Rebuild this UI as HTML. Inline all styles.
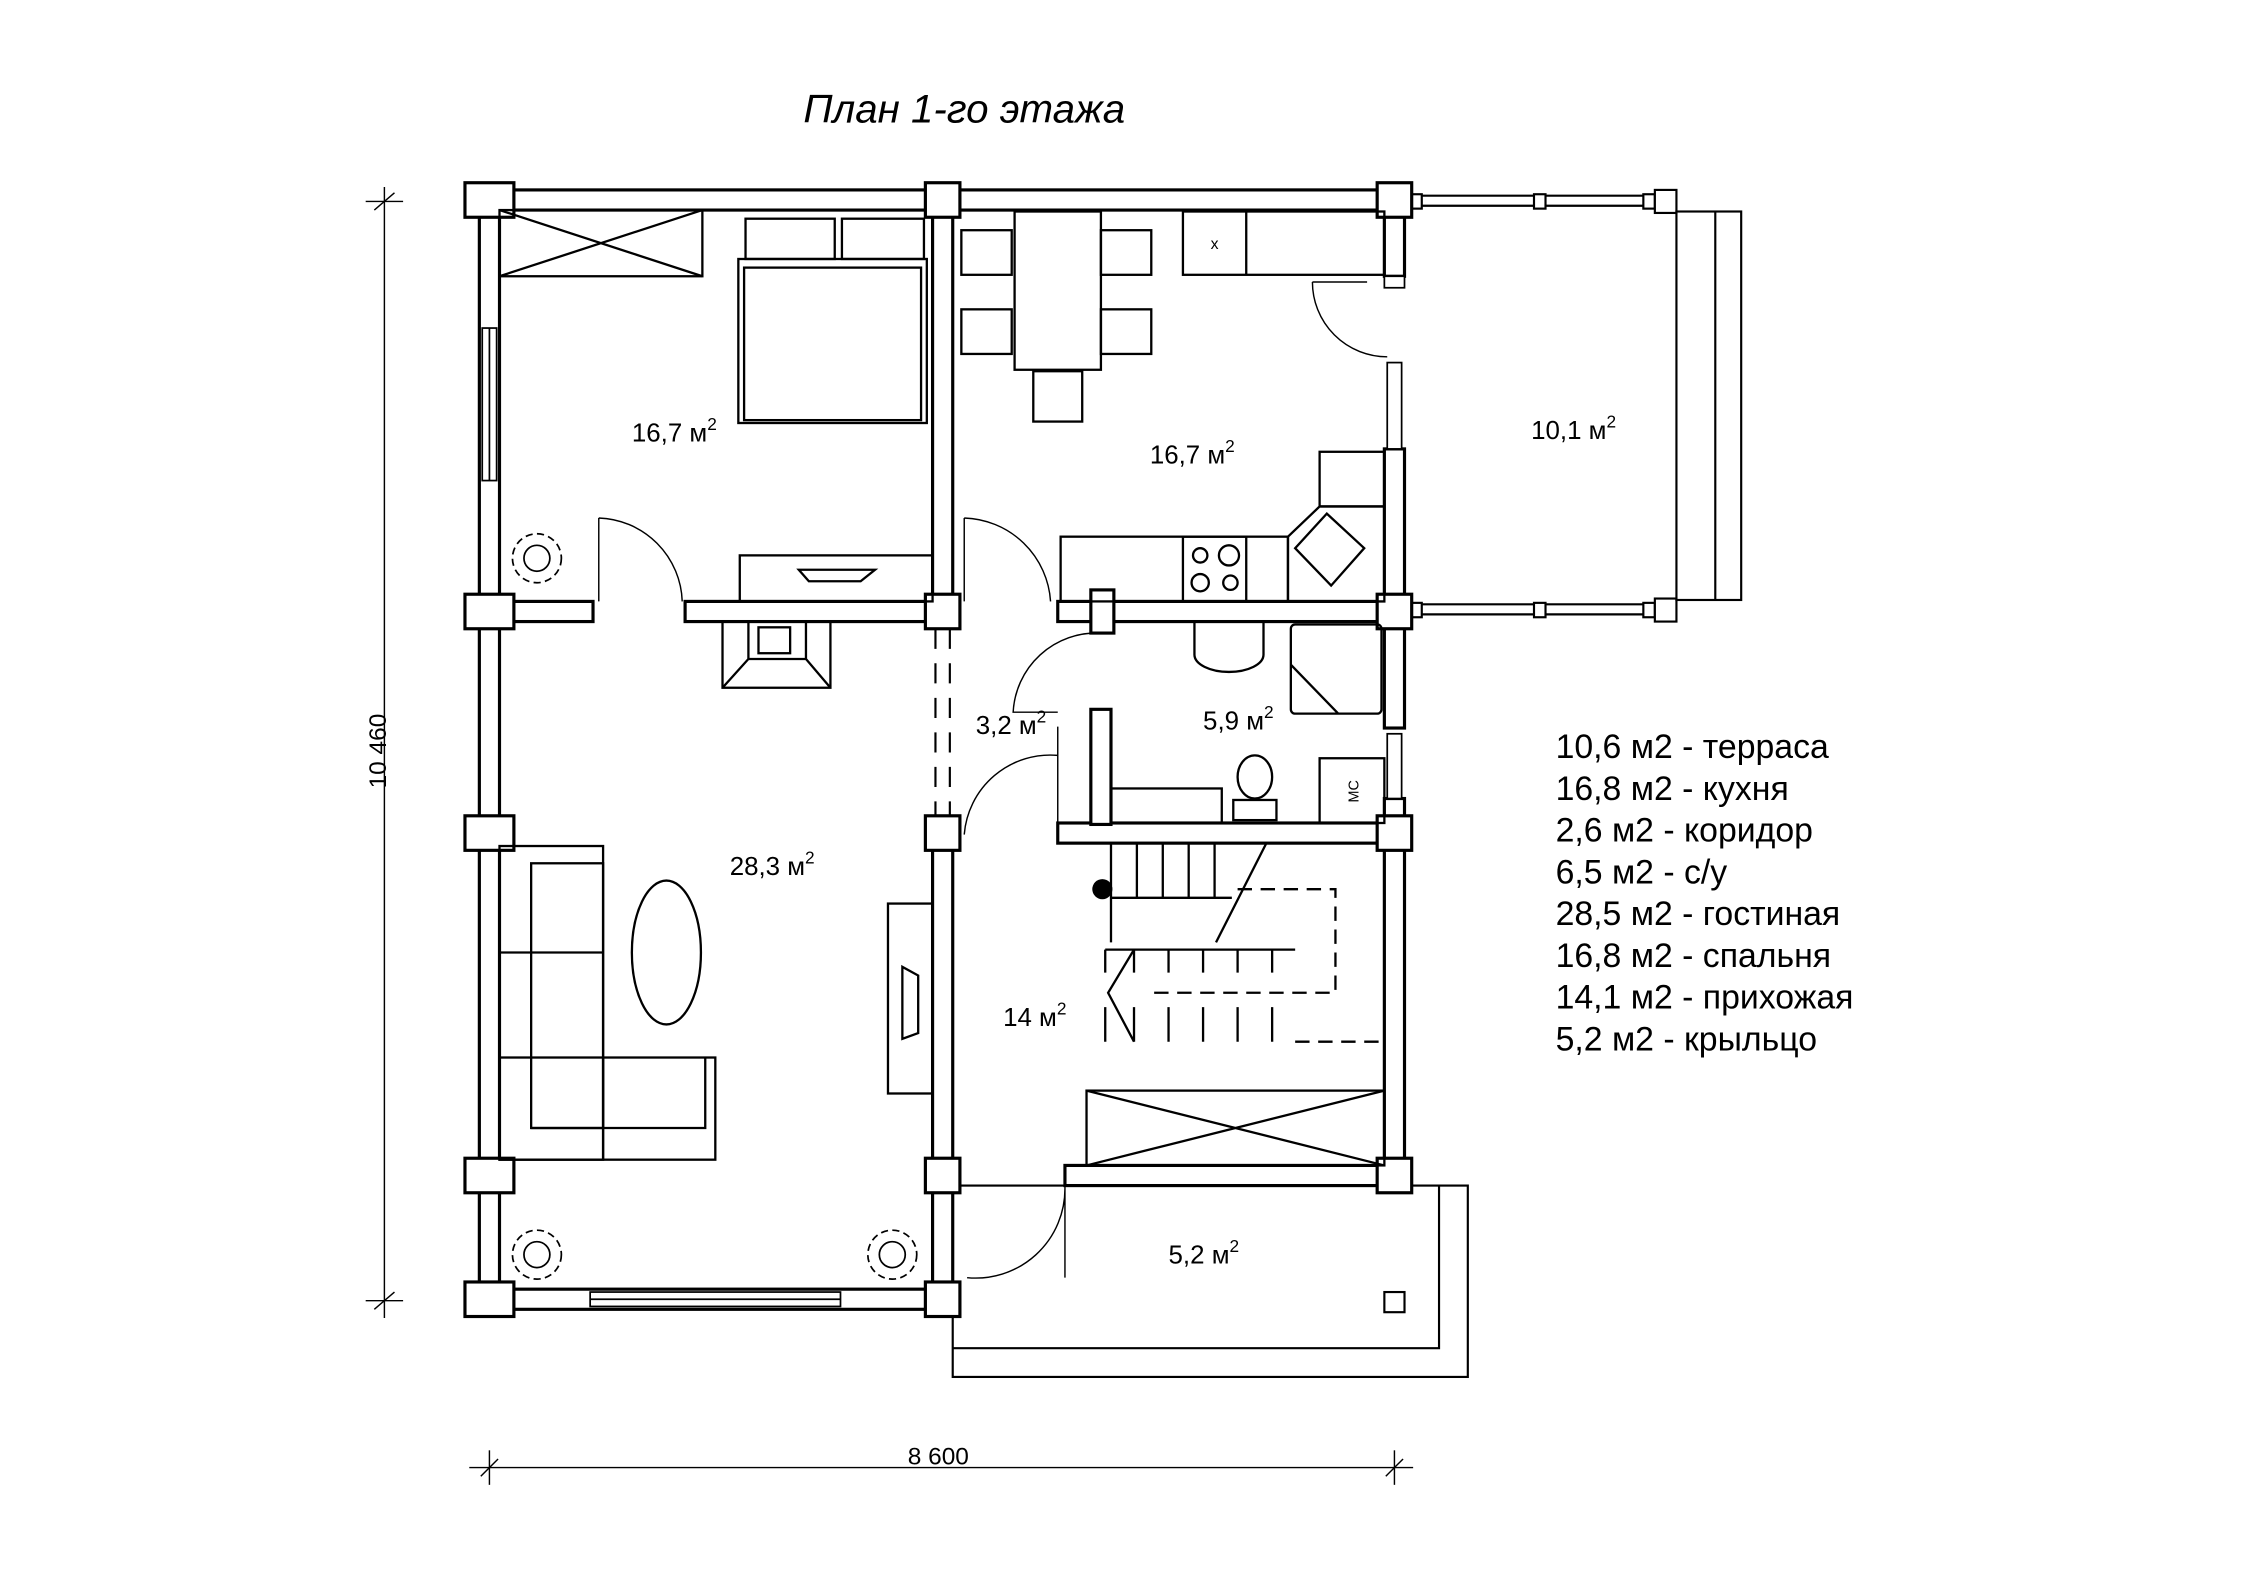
<!DOCTYPE html>
<html><head><meta charset="utf-8"><style>
html,body{margin:0;padding:0;background:#fff;}
svg{display:block;}
text{font-family:"Liberation Sans",sans-serif;fill:#000;}
</style></head><body>
<svg width="2245" height="1587" viewBox="0 0 1560 1103" xmlns="http://www.w3.org/2000/svg">
<rect width="1560" height="1103" fill="#fff"/>
<text x="670" y="85" font-size="28" font-style="italic" text-anchor="middle">План 1-го этажа</text>

<!-- terrace -->
<g fill="none" stroke="#000" stroke-width="1.5">
<line x1="976" y1="136" x2="1155" y2="136"/><line x1="976" y1="143" x2="1155" y2="143"/>
<line x1="976" y1="420" x2="1155" y2="420"/><line x1="976" y1="427" x2="1155" y2="427"/>
<rect x="1066" y="135" width="8" height="10" fill="#fff"/>
<rect x="1066" y="419" width="8" height="10" fill="#fff"/>
<rect x="980" y="135" width="8" height="10" fill="#fff"/>
<rect x="980" y="419" width="8" height="10" fill="#fff"/>
<rect x="1142" y="135" width="8" height="10" fill="#fff"/>
<rect x="1142" y="419" width="8" height="10" fill="#fff"/>
<rect x="1150" y="132" width="15" height="16" fill="#fff"/>
<rect x="1150" y="416" width="15" height="16" fill="#fff"/>
<rect x="1165" y="147" width="45" height="270"/>
<line x1="1192" y1="147" x2="1192" y2="417"/>
</g>

<!-- porch -->
<g fill="none" stroke="#000" stroke-width="1.5">
<rect x="662" y="824" width="358" height="133"/>
<polyline points="662,937 1000,937 1000,824"/>
<rect x="962" y="898" width="14" height="14" fill="#fff"/>
</g>

<!-- walls -->
<g fill="#fff" stroke="#000" stroke-width="2.2">
<rect x="333" y="132" width="643" height="14"/>
<rect x="333" y="132" width="14" height="778"/>
<rect x="333" y="896" width="329" height="14"/>
<rect x="648" y="132" width="14" height="300"/>
<rect x="648" y="572" width="14" height="338"/>
<rect x="962" y="132" width="14" height="60"/>
<rect x="962" y="312" width="14" height="194"/>
<rect x="962" y="555" width="14" height="269"/>
<rect x="340" y="418" width="72" height="14"/>
<rect x="476" y="418" width="172" height="14"/>
<rect x="735" y="418" width="241" height="14"/>
<rect x="735" y="572" width="241" height="14"/>
<rect x="740" y="810" width="236" height="14"/>
<rect x="758" y="493" width="14" height="80"/>
<!-- posts -->
<rect x="323" y="127" width="34" height="24"/>
<rect x="643" y="127" width="24" height="24"/>
<rect x="957" y="127" width="24" height="24"/>
<rect x="323" y="413" width="34" height="24"/>
<rect x="643" y="413" width="24" height="24"/>
<rect x="957" y="413" width="24" height="24"/>
<rect x="323" y="567" width="34" height="24"/>
<rect x="643" y="567" width="24" height="24"/>
<rect x="957" y="567" width="24" height="24"/>
<rect x="323" y="805" width="34" height="24"/>
<rect x="643" y="805" width="24" height="24"/>
<rect x="957" y="805" width="24" height="24"/>
<rect x="323" y="891" width="34" height="24"/>
<rect x="643" y="891" width="24" height="24"/>
<rect x="758" y="410" width="16" height="30"/>
</g>
<g fill="#fff" stroke="#000" stroke-width="1.2">
<rect x="335" y="228" width="10" height="106"/>
<line x1="340" y1="228" x2="340" y2="334"/>
<rect x="964" y="252" width="10" height="60"/>
<rect x="964" y="510" width="10" height="45"/>
<rect x="410" y="898" width="174" height="10"/>
<line x1="410" y1="903" x2="584" y2="903"/>
<rect x="962" y="192" width="14" height="8"/>
</g>
<!-- dashed opening -->
<g stroke="#000" stroke-width="1.5" stroke-dasharray="14,10">
<line x1="650" y1="437" x2="650" y2="567"/><line x1="660" y1="437" x2="660" y2="567"/>
</g>
<!-- doors -->
<g fill="none" stroke="#000" stroke-width="1">
<path d="M416,360 L416,418 M416,360 A60,60 0 0 1 474,418"/>
<path d="M670,360 L670,418 M670,360 A62,62 0 0 1 730,418"/>
<path d="M912,196 L950,196 M912,196 A52,52 0 0 0 964,248"/>
<path d="M764,440 A58,58 0 0 0 704,495 L735,495"/>
<path d="M735,505 L735,572 M735,525 A60,60 0 0 0 670,580"/>
<path d="M740,820 L740,888 M740,826 A62,62 0 0 1 672,888"/>
</g>

<g fill="none" stroke="#000" stroke-width="1.6">
<!-- bedroom -->
<rect x="347" y="146" width="141" height="46"/><path d="M347,146 L488,192 M488,146 L347,192"/>
<rect x="518" y="152" width="62" height="28"/><rect x="585" y="152" width="57" height="28"/>
<rect x="513" y="180" width="131" height="114"/><rect x="517" y="186" width="123" height="106"/>
<rect x="514" y="386" width="134" height="32"/>
<path d="M555,396 L608,396 L598,404 L562,404 Z"/>
<rect x="502" y="432" width="75" height="46"/><rect x="527" y="436" width="22" height="18"/>
<path d="M520,432 L520,458 L502,478 M560,432 L560,458 L577,478 M520,458 L560,458"/>
<!-- living -->
<rect x="347" y="588" width="72" height="218"/>
<rect x="369" y="600" width="50" height="184"/>
<rect x="347" y="735" width="150" height="71"/>
<path d="M347,662 L419,662 M419,735 L419,806 M369,784 L490,784 L490,735"/>
<ellipse cx="463" cy="662" rx="24" ry="50"/>
<rect x="617" y="628" width="31" height="132"/>
<path d="M627,672 L627,722 L638,718 L638,678 Z"/>
<!-- kitchen -->
<rect x="705" y="147" width="60" height="110"/>
<rect x="668" y="160" width="35" height="31"/><rect x="668" y="215" width="35" height="31"/>
<rect x="765" y="160" width="35" height="31"/><rect x="765" y="215" width="35" height="31"/>
<rect x="718" y="258" width="34" height="35"/>
<rect x="822" y="147" width="140" height="44"/><line x1="866" y1="147" x2="866" y2="191"/>
<rect x="737" y="373" width="158" height="45"/>
<rect x="822" y="373" width="44" height="45"/>
<circle cx="834" cy="386" r="5"/><circle cx="854" cy="386" r="7"/><circle cx="834" cy="405" r="6"/><circle cx="855" cy="405" r="5"/>
<rect x="917" y="314" width="45" height="38"/>
<path d="M895,373 L917,352 L962,352 L962,418 L895,418 Z"/>
<path d="M922,357 L948,381 L925,407 L900,381 Z"/>
<!-- bath -->
<path d="M830,432 L830,455 A24,12 0 0 0 878,455 L878,432"/>
<rect x="897" y="434" width="63" height="62" rx="3"/>
<path d="M897,462 L930,496"/>
<ellipse cx="872" cy="540" rx="12" ry="15"/>
<rect x="857" y="556" width="30" height="14"/>
<rect x="917" y="527" width="45" height="45"/>
<rect x="772" y="548" width="77" height="24"/>
<!-- stairs -->
<path d="M772,586 L772,655 M772,624 L856,624 M790,586 L790,624 M808,586 L808,624 M826,586 L826,624 M844,586 L844,624 M880,586 L845,655"/>
<path d="M768,660 L768,676 M788,660 L788,676 M812,660 L812,676 M836,660 L836,676 M860,660 L860,676 M884,660 L884,676 M768,660 L900,660"/>
<path d="M788,660 L770,690 L788,724 M768,724 L768,700 M788,724 L788,700 M812,724 L812,700 M836,724 L836,700 M860,724 L860,700 M884,724 L884,700"/>
<rect x="755" y="758" width="207" height="52"/><path d="M755,758 L962,810 M962,758 L755,810"/>
</g>
<g fill="none" stroke="#000" stroke-width="1.6" stroke-dasharray="10,6">
<path d="M860,618 L928,618 L928,690 L800,690"/>
<path d="M900,724 L962,724"/>
</g>
<circle cx="766" cy="618" r="7" fill="#000"/>
<!-- plants -->
<g fill="none" stroke="#000" stroke-width="1.2">
<circle cx="373" cy="388" r="17" stroke-dasharray="5,3"/><circle cx="373" cy="388" r="9"/>
<circle cx="373" cy="872" r="17" stroke-dasharray="5,3"/><circle cx="373" cy="872" r="9"/>
<circle cx="620" cy="872" r="17" stroke-dasharray="5,3"/><circle cx="620" cy="872" r="9"/>
</g>

<!-- labels -->
<g font-size="18">
<text x="439" y="307">16,7 м<tspan dy="-8" font-size="12">2</tspan></text>
<text x="799" y="322">16,7 м<tspan dy="-8" font-size="12">2</tspan></text>
<text x="1064" y="305">10,1 м<tspan dy="-8" font-size="12">2</tspan></text>
<text x="507" y="608">28,3 м<tspan dy="-8" font-size="12">2</tspan></text>
<text x="678" y="510">3,2 м<tspan dy="-8" font-size="12">2</tspan></text>
<text x="836" y="507">5,9 м<tspan dy="-8" font-size="12">2</tspan></text>
<text x="697" y="713">14 м<tspan dy="-8" font-size="12">2</tspan></text>
<text x="812" y="878">5,2 м<tspan dy="-8" font-size="12">2</tspan></text>
</g>
<text x="844" y="173" font-size="11" text-anchor="middle">x</text>
<text x="944" y="550" font-size="10" text-anchor="middle" transform="rotate(-90 944 550)">МС</text>

<g font-size="23.5">
<text x="1081" y="527">10,6 м2 - терраса</text>
<text x="1081" y="556">16,8 м2 - кухня</text>
<text x="1081" y="585">2,6 м2 - коридор</text>
<text x="1081" y="614">6,5 м2 - с/у</text>
<text x="1081" y="643">28,5 м2 - гостиная</text>
<text x="1081" y="672">16,8 м2 - спальня</text>
<text x="1081" y="701">14,1 м2 - прихожая</text>
<text x="1081" y="730">5,2 м2 - крыльцо</text>
</g>

<!-- dimensions -->
<g stroke="#000" stroke-width="1">
<line x1="267" y1="130" x2="267" y2="916"/>
<line x1="254" y1="140" x2="280" y2="140"/><line x1="260" y1="146" x2="274" y2="134"/>
<line x1="254" y1="904" x2="280" y2="904"/><line x1="260" y1="910" x2="274" y2="898"/>
<line x1="326" y1="1020" x2="982" y2="1020"/>
<line x1="340" y1="1008" x2="340" y2="1032"/><line x1="334" y1="1026" x2="346" y2="1014"/>
<line x1="969" y1="1008" x2="969" y2="1032"/><line x1="963" y1="1026" x2="975" y2="1014"/>
</g>
<text x="268" y="522" font-size="17" text-anchor="middle" transform="rotate(-90 268 522)">10 460</text>
<text x="652" y="1018" font-size="17" text-anchor="middle">8 600</text>
</svg>
</body></html>
